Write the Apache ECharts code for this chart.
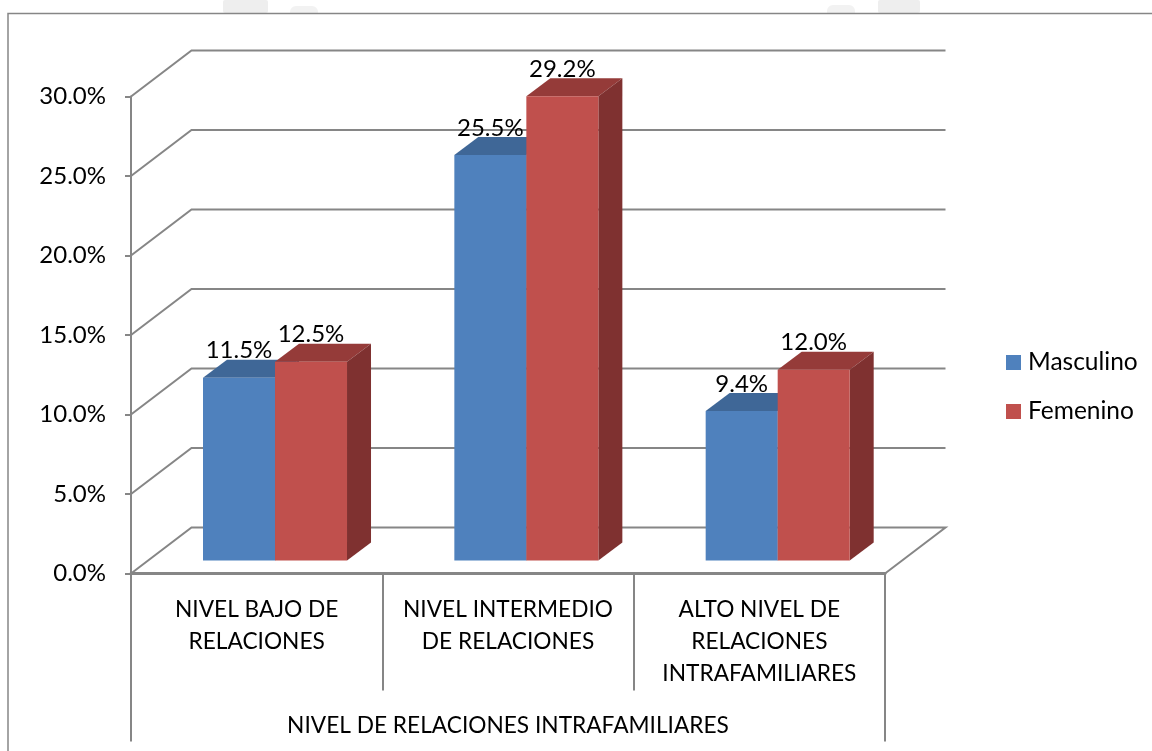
<!DOCTYPE html>
<html>
<head>
<meta charset="utf-8">
<style>html,body{margin:0;padding:0;background:#fff}#c{width:1152px;height:751px}</style>
<script src="https://cdn.jsdelivr.net/npm/echarts@6/dist/echarts.min.js"></script>
</head>
<body>
<div id="c"></div>
<script>
const categories = ['NIVEL BAJO DE\nRELACIONES', 'NIVEL INTERMEDIO\nDE RELACIONES', 'ALTO NIVEL DE\nRELACIONES\nINTRAFAMILIARES'];
const groupLabel = ['NIVEL DE RELACIONES INTRAFAMILIARES'];
const masculino = [11.5, 25.5, 9.4];
const femenino = [12.5, 29.2, 12.0];
const yTicks = [0, 5, 10, 15, 20, 25, 30];

const FONT = 'Lato';
const GRAY = '#868686';
const chart = echarts.init(document.getElementById('c'), null, {renderer: 'canvas'});

function wallItem(params, api) {
  const cs = params.coordSys;
  const y = api.coord([0, api.value(0)])[1];
  const x0 = cs.x, x1 = cs.x + cs.width;
  const dx = 60.5, dy = 46;
  const pts = [[x0, y], [x0 + dx, y - dy], [x1 + dx, y - dy]];
  if (api.value(0) === 0) pts.push([x1, y]);
  return {
    type: 'polyline',
    shape: {points: pts},
    style: {stroke: GRAY, lineWidth: 2, fill: null, lineJoin: 'miter'}
  };
}

function barItem(side, front, top, right) {
  return function (params, api) {
    const band = api.size([1, 0])[0];
    const w = band * 0.2865;
    const p = api.coord([api.value(0), api.value(1)]);
    const b = api.coord([api.value(0), 0]);
    const shiftX = band * 0.073, shiftY = 13;
    const dx = 24, dy = 18;
    const xL = p[0] + shiftX + (side < 0 ? -w : 0);
    const xR = xL + w;
    const yT = p[1] - shiftY, yB = b[1] - shiftY;
    return {
      type: 'group',
      children: [
        {type: 'polygon', shape: {points: [[xL, yT], [xL + dx, yT - dy], [xR + dx, yT - dy], [xR, yT]]}, style: {fill: top}},
        {type: 'polygon', shape: {points: [[xR, yT], [xR + dx, yT - dy], [xR + dx, yB - dy], [xR, yB]]}, style: {fill: right}},
        {type: 'rect', shape: {x: xL, y: yT, width: w, height: yB - yT}, style: {fill: front}},
        {type: 'text', z2: 50, style: {
          x: (xL + xR) / 2, y: yT - 27,
          text: api.value(1).toFixed(1) + '%',
          fill: '#000', font: '24px ' + FONT, align: 'center', verticalAlign: 'middle'
        }}
      ]
    };
  };
}

chart.setOption({
  animation: false,
  backgroundColor: '#fff',
  textStyle: {fontFamily: FONT},
  graphic: [
    {type: 'rect', silent: true, z: -1, shape: {x: 223, y: 0, width: 45, height: 13, r: 2}, style: {fill: '#eeeeee'}},
    {type: 'rect', silent: true, z: -1, shape: {x: 290, y: 6, width: 28, height: 7, r: [6, 6, 0, 0]}, style: {fill: '#f2f2f2'}},
    {type: 'rect', silent: true, z: -1, shape: {x: 827, y: 5, width: 28, height: 8, r: [6, 6, 0, 0]}, style: {fill: '#f2f2f2'}},
    {type: 'rect', silent: true, z: -1, shape: {x: 878, y: 0, width: 42, height: 13, r: 2}, style: {fill: '#eeeeee'}},
    {type: 'polyline', silent: true, shape: {points: [[8, 751], [8, 13.5], [1152, 13.5]]}, style: {stroke: GRAY, lineWidth: 1.5, fill: null}}
  ],
  legend: {
    orient: 'vertical',
    left: 1006,
    top: 350,
    padding: 0,
    itemWidth: 15,
    itemHeight: 15,
    itemGap: 24,
    icon: 'rect',
    data: ['Masculino', 'Femenino'],
    textStyle: {fontFamily: FONT, fontSize: 24.5, color: '#000', padding: [0, 0, 0, 2]}
  },
  grid: {left: 131, top: 96.5, width: 754, height: 477},
  xAxis: [
    {
      type: 'category',
      data: categories,
      position: 'bottom',
      axisLine: {show: true, lineStyle: {color: GRAY, width: 3}},
      axisTick: {show: true, alignWithLabel: false, length: 117, lineStyle: {color: GRAY, width: 2}},
      axisLabel: {interval: 0, margin: 20, fontFamily: FONT, fontSize: 22.7, color: '#000', lineHeight: 32, verticalAlign: 'top'}
    },
    {
      type: 'category',
      data: groupLabel,
      position: 'bottom',
      axisLine: {show: false},
      axisTick: {show: true, alignWithLabel: false, length: 168, lineStyle: {color: GRAY, width: 2}},
      axisLabel: {interval: 0, margin: 141, fontFamily: FONT, fontSize: 22.7, color: '#000', verticalAlign: 'top'}
    }
  ],
  yAxis: {
    type: 'value',
    min: 0,
    max: 30,
    interval: 5,
    axisLine: {show: true, lineStyle: {color: GRAY, width: 2}},
    axisTick: {show: true, length: 6, lineStyle: {color: GRAY, width: 2}},
    splitLine: {show: false},
    axisLabel: {margin: 25, fontFamily: FONT, fontSize: 24, color: '#000', padding: [3, 0, 0, 0], formatter: v => v.toFixed(1) + '%'}
  },
  series: [
    {type: 'custom', silent: true, z: 1, xAxisIndex: 0, yAxisIndex: 0, renderItem: wallItem, encode: {y: 0}, data: yTicks.map(v => [v])},
    {name: 'Masculino', type: 'custom', z: 3, xAxisIndex: 0, itemStyle: {color: '#4F81BD'},
      renderItem: barItem(-1, '#4F81BD', '#3F6797', '#3A5F8C'), encode: {x: 0, y: 1},
      data: masculino.map((v, i) => [i, v])},
    {name: 'Femenino', type: 'custom', z: 4, xAxisIndex: 0, itemStyle: {color: '#C0504D'},
      renderItem: barItem(1, '#C0504D', '#953B39', '#7F3130'), encode: {x: 0, y: 1},
      data: femenino.map((v, i) => [i, v])}
  ]
});
</script>
</body>
</html>
